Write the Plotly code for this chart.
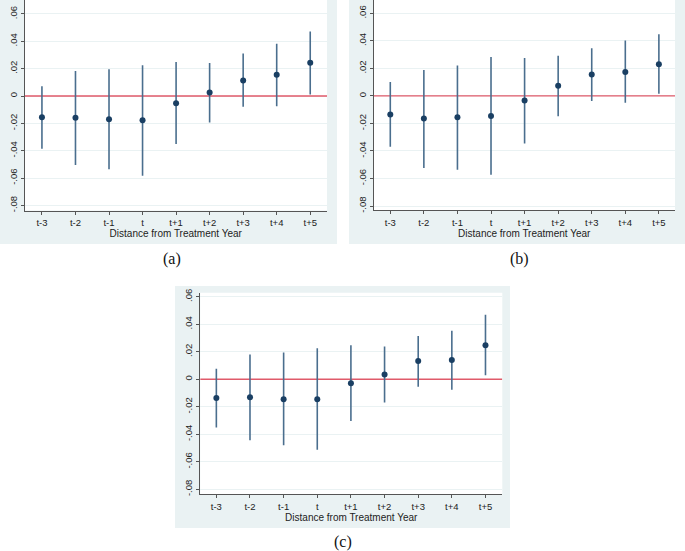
import plotly.graph_objects as go

categories = ["t-3", "t-2", "t-1", "t", "t+1", "t+2", "t+3", "t+4", "t+5"]

# Panel (a)
a_est = [-0.0156, -0.0158, -0.0170, -0.0178, -0.0052, 0.0025, 0.0114, 0.0156, 0.0244]
a_hi = [0.0072, 0.0183, 0.0195, 0.0225, 0.0249, 0.0242, 0.0311, 0.0383, 0.0472]
a_lo = [-0.0385, -0.0504, -0.0536, -0.0583, -0.0351, -0.0193, -0.0079, -0.0074, 0.0012]

# Panel (b)
b_est = [-0.0135, -0.0164, -0.0155, -0.0145, -0.0034, 0.0074, 0.0155, 0.0174, 0.0231]
b_hi = [0.0101, 0.0189, 0.0221, 0.0282, 0.0275, 0.0292, 0.0346, 0.0402, 0.0449]
b_lo = [-0.0370, -0.0523, -0.0537, -0.0572, -0.0346, -0.0147, -0.0037, -0.0049, 0.0015]

# Panel (c)
c_est = [-0.0137, -0.0130, -0.0145, -0.0145, -0.0029, 0.0034, 0.0133, 0.0140, 0.0248]
c_hi = [0.0076, 0.0179, 0.0194, 0.0226, 0.0248, 0.0238, 0.0314, 0.0353, 0.0469]
c_lo = [-0.0351, -0.0444, -0.0479, -0.0513, -0.0304, -0.0169, -0.0054, -0.0076, 0.0029]

y_tickvals = [0.06, 0.04, 0.02, 0.0, -0.02, -0.04, -0.06, -0.08]
y_ticktext = [".06", ".04", ".02", "0", "-.02", "-.04", "-.06", "-.08"]
x_title = "Distance from Treatment Year"
panel_labels = ["(a)", "(b)", "(c)"]
ref_value = 0.0

W, H = 685, 551
BG = "#eaf2f3"
NAVY = "#1a3f63"
BAR = "#4a6e8e"
RED = "#e05a6a"


def px_x(v):
    return v / W


def px_y(v):
    return 1 - v / H


panels = [
    dict(est=a_est, hi=a_hi, lo=a_lo, plot=(24.5, 327, 0, 210.5), yr=(-0.0837, 0.0702), xr=(-0.52, 8.5),
         bg=(0, 337, 0, 244)),
    dict(est=b_est, hi=b_hi, lo=b_lo, plot=(373.5, 675, 0, 210.3), yr=(-0.0831, 0.0697), xr=(-0.5, 8.48),
         bg=(349, 685, 0, 244)),
    dict(est=c_est, hi=c_hi, lo=c_lo, plot=(200.2, 502.3, 292.7, 494.3), yr=(-0.0836, 0.0629), xr=(-0.48, 8.5),
         bg=(175, 510, 286, 528)),
]

fig = go.Figure()
layout = dict(
    width=W, height=H, margin=dict(l=0, r=0, t=0, b=0, autoexpand=False),
    paper_bgcolor="white", plot_bgcolor="white", showlegend=False,
    shapes=[], annotations=[],
)

# outer teal panels first, then white plot areas on top
for p in panels:
    bl, br, bt, bb = p["bg"]
    layout["shapes"].append(dict(
        type="rect", xref="paper", yref="paper", layer="below",
        x0=px_x(bl), x1=px_x(br), y0=px_y(bb), y1=px_y(bt),
        fillcolor=BG, line=dict(width=0),
    ))
for p in panels:
    l, r, t, b = p["plot"]
    layout["shapes"].append(dict(
        type="rect", xref="paper", yref="paper", layer="below",
        x0=px_x(l), x1=px_x(r), y0=px_y(b), y1=px_y(t),
        fillcolor="white", line=dict(width=0),
    ))

for i, p in enumerate(panels):
    n = "" if i == 0 else str(i + 1)
    xa, ya = "x" + n, "y" + n
    x_idx = list(range(len(categories)))
    # reference line at zero spanning the axis range
    fig.add_trace(go.Scatter(
        x=list(p["xr"]), y=[ref_value, ref_value], mode="lines", xaxis=xa, yaxis=ya,
        line=dict(color=RED, width=1.3), hoverinfo="skip",
    ))
    plus = [h - e for h, e in zip(p["hi"], p["est"])]
    minus = [e - l for e, l in zip(p["est"], p["lo"])]
    fig.add_trace(go.Scatter(
        x=x_idx, y=p["est"], mode="markers", xaxis=xa, yaxis=ya,
        marker=dict(color=NAVY, size=6),
        error_y=dict(type="data", array=plus, arrayminus=minus, symmetric=False,
                     color=BAR, thickness=1.6, width=0),
    ))
    l, r, t, b = p["plot"]
    layout["xaxis" + n] = dict(
        domain=[px_x(l), px_x(r)], anchor=ya, range=list(p["xr"]), automargin=False,
        tickvals=x_idx, ticktext=categories, ticks="outside", ticklen=3, tickcolor="#555",
        showline=True, linecolor="#555", linewidth=1, showgrid=False, zeroline=False,
        tickfont=dict(family="Liberation Sans, Arial", size=9.5, color="#222"),
        title=dict(text=x_title, font=dict(family="Liberation Sans, Arial", size=10, color="#222"), standoff=0),
    )
    layout["yaxis" + n] = dict(
        domain=[px_y(b), px_y(t)], anchor=xa, range=list(p["yr"]), automargin=False,
        tickvals=y_tickvals, ticktext=y_ticktext, tickangle=-90,
        ticks="outside", ticklen=3, tickcolor="#555",
        showline=True, linecolor="#555", linewidth=1,
        showgrid=True, gridcolor=BG, gridwidth=1, zeroline=False,
        tickfont=dict(family="Liberation Sans, Arial", size=9.5, color="#222"),
    )

label_pos = [(172, 259), (519, 259), (343, 542)]
for lab, (lx, ly) in zip(panel_labels, label_pos):
    layout["annotations"].append(dict(
        text=lab, x=px_x(lx), y=px_y(ly), xref="paper", yref="paper",
        showarrow=False, xanchor="center", yanchor="middle",
        font=dict(family="Liberation Serif, Times New Roman", size=16, color="#111"),
    ))

fig.update_layout(**layout)
fig.write_html("out.html", config={"displayModeBar": False},
               post_script="document.body.style.margin='0px';")
